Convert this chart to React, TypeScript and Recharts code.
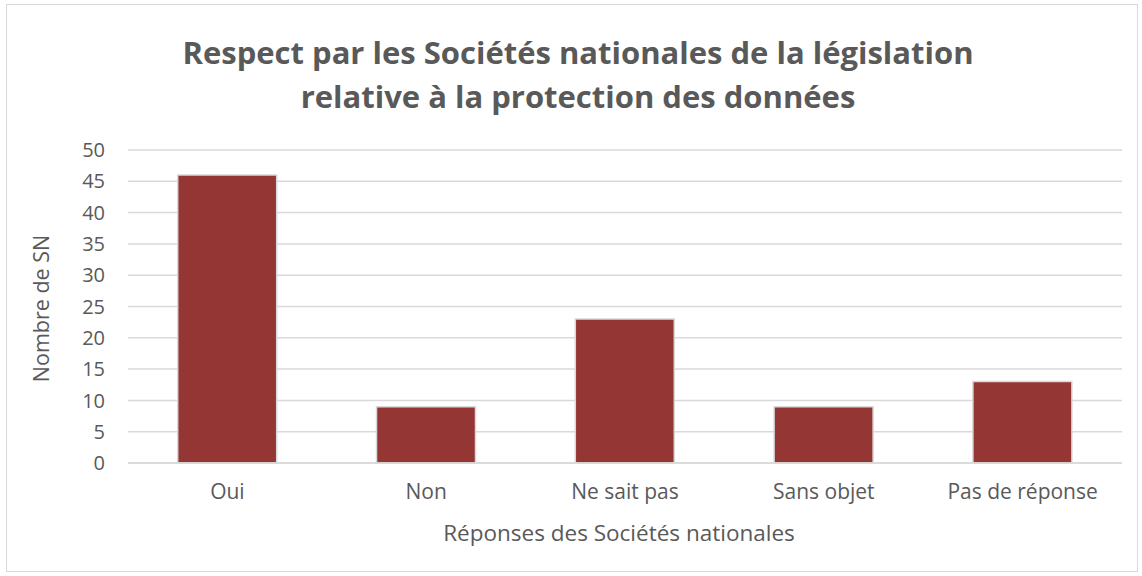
import { BarChart, Bar, XAxis, YAxis, CartesianGrid } from "recharts"

const categories = ["Oui", "Non", "Ne sait pas", "Sans objet", "Pas de réponse"]
const counts = [46, 9, 23, 9, 13]
const yTicks = [0, 5, 10, 15, 20, 25, 30, 35, 40, 45, 50]

const titleLines = [
  "Respect par les Sociétés nationales de la législation",
  "relative à la protection des données",
]

const data = categories.map((name, i) => ({ name, value: counts[i] }))

const FONT = "'Open Sans', 'Noto Sans', sans-serif"
const TEXT = "#595959"

export default function App() {
  return (
    <div style={{ position: "absolute", left: 0, top: 0, width: 1142, height: 576, background: "#fff", fontFamily: FONT }}>
      <div
        style={{
          position: "absolute",
          left: 6,
          top: 4,
          width: 1130,
          height: 566,
          border: "1.5px solid #d9d9d9",
        }}
      />
      <div
        style={{
          position: "absolute",
          left: 7,
          top: 30,
          width: 1142,
          textAlign: "center",
          color: TEXT,
          fontWeight: 700,
          fontSize: 31,
          lineHeight: "44px",
        }}
      >
        {titleLines.map((t) => (
          <div key={t}>{t}</div>
        ))}
      </div>
      <BarChart
        width={1142}
        height={576}
        data={data}
        margin={{ top: 150, right: 20, bottom: 83, left: 68 }}
        barCategoryGap="25%"
        style={{ position: "absolute", left: 0, top: 0 }}
      >
        <CartesianGrid vertical={false} stroke="#d9d9d9" strokeWidth={1.5} />
        <XAxis
          dataKey="name"
          height={30}
          axisLine={{ stroke: "#d9d9d9", strokeWidth: 1.5 }}
          tickLine={false}
          tick={{ fill: TEXT, fontSize: 21, fontFamily: FONT }}
          tickMargin={15}
          interval={0}
          label={{
            value: "Réponses des Sociétés nationales",
            position: "insideBottom",
            offset: -48,
            dx: -6,
            fill: TEXT,
            fontSize: 22.5,
            fontFamily: FONT,
          }}
        />
        <YAxis
          width={60}
          domain={[0, 50]}
          ticks={yTicks}
          interval={0}
          axisLine={false}
          tickLine={false}
          tick={{ fill: TEXT, fontSize: 20, fontFamily: FONT }}
          tickMargin={17}
          label={{
            value: "Nombre de SN",
            angle: -90,
            position: "insideLeft",
            dx: -32,
            dy: 2,
            fill: TEXT,
            fontSize: 21.5,
            fontFamily: FONT,
            style: { textAnchor: "middle" },
          }}
        />
        <Bar dataKey="value" fill="#943634" stroke="#d9d9d9" strokeWidth={1.5} isAnimationActive={false} />
      </BarChart>
    </div>
  )
}
